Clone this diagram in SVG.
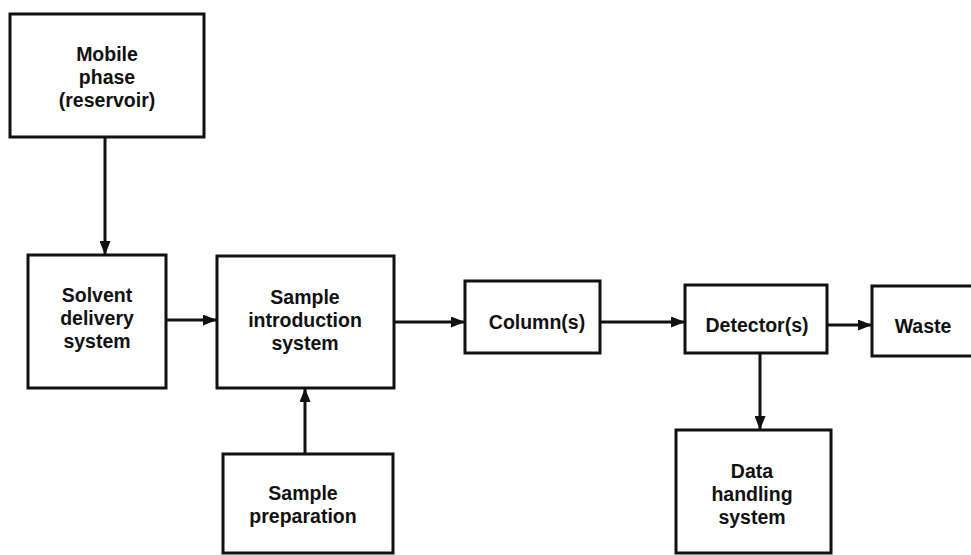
<svg xmlns="http://www.w3.org/2000/svg" width="971" height="555" viewBox="0 0 971 555">
<defs>
<style>
.box{fill:#fff;stroke:#111;stroke-width:3}
.t{font-family:"Liberation Sans",Arial,sans-serif;font-weight:bold;font-size:19.5px;fill:#111;text-anchor:middle}
.c{stroke:#111;stroke-width:3;fill:none;marker-end:url(#ah)}
</style>
<marker id="ah" viewBox="0 0 14 11" refX="14" refY="5.5" markerWidth="14" markerHeight="11" markerUnits="userSpaceOnUse" orient="auto">
<path d="M0,0 L14,5.5 L0,11 Z" fill="#111"/>
</marker>
</defs>
<rect width="971" height="555" fill="#fff"/>
<g id="connectors">
<line class="c" x1="105" y1="137" x2="105" y2="255"/>
<line class="c" x1="166" y1="320" x2="217" y2="320"/>
<line class="c" x1="394" y1="322" x2="465" y2="322"/>
<line class="c" x1="600" y1="322" x2="685" y2="322"/>
<line class="c" x1="827" y1="325" x2="872" y2="325"/>
<line class="c" x1="760" y1="353" x2="760" y2="430"/>
<line class="c" x1="305" y1="454" x2="305" y2="388"/>
</g>
<g id="mobile">
<rect class="box" x="10" y="14" width="194" height="123"/>
<text class="t" x="107" y="61">Mobile</text>
<text class="t" x="107" y="84">phase</text>
<text class="t" x="107" y="107">(reservoir)</text>
</g>
<g id="solvent">
<rect class="box" x="28" y="255" width="138" height="133"/>
<text class="t" x="97" y="302">Solvent</text>
<text class="t" x="97" y="325">delivery</text>
<text class="t" x="97" y="348">system</text>
</g>
<g id="sampleintro">
<rect class="box" x="217" y="256" width="177" height="132"/>
<text class="t" x="305" y="304">Sample</text>
<text class="t" x="305" y="327">introduction</text>
<text class="t" x="305" y="350">system</text>
</g>
<g id="column">
<rect class="box" x="465" y="281" width="135" height="72"/>
<text class="t" x="537" y="329">Column(s)</text>
</g>
<g id="detector">
<rect class="box" x="685" y="285" width="142" height="68"/>
<text class="t" x="757" y="332">Detector(s)</text>
</g>
<g id="waste">
<rect class="box" x="872" y="286" width="110" height="70"/>
<text class="t" x="923" y="333">Waste</text>
</g>
<g id="sampleprep">
<rect class="box" x="223" y="454" width="170" height="99"/>
<text class="t" x="303" y="500">Sample</text>
<text class="t" x="303" y="523">preparation</text>
</g>
<g id="datahandling">
<rect class="box" x="676" y="430" width="155" height="123"/>
<text class="t" x="752" y="478">Data</text>
<text class="t" x="752" y="501">handling</text>
<text class="t" x="752" y="524">system</text>
</g>
</svg>
